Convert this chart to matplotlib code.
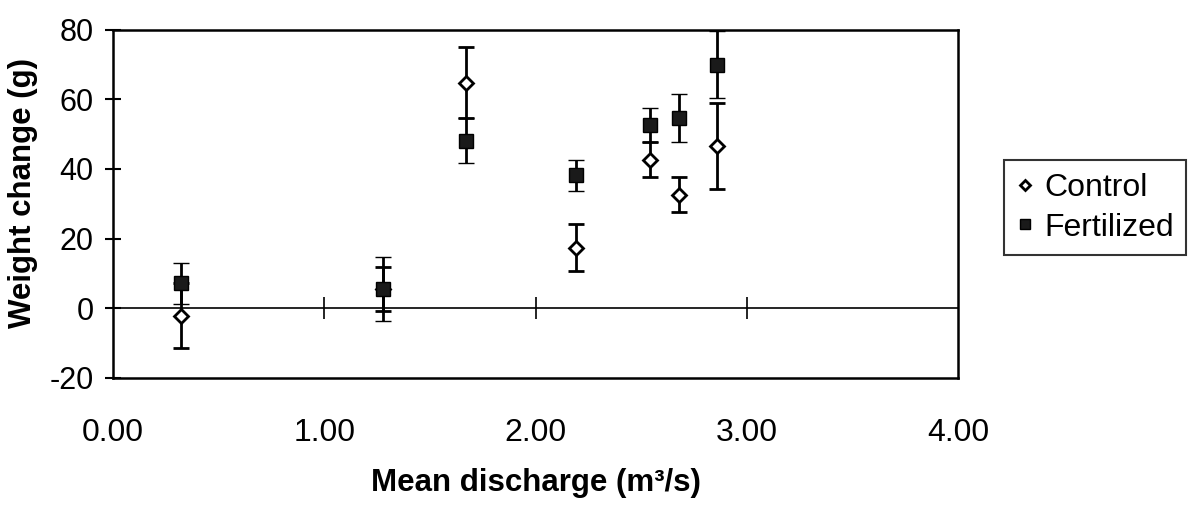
import numpy as np
import matplotlib.pyplot as plt
from matplotlib.lines import Line2D

plt.rcParams['font.family'] = ['Liberation Sans', 'DejaVu Sans']
plt.rcParams['axes.unicode_minus'] = False

# mean discharge (m3/s) per site
discharge = [0.32, 1.28, 1.67, 2.19, 2.54, 2.68, 2.86]

control = [-2.1, 5.5, 64.8, 17.4, 42.7, 32.6, 46.6]
control_err = [9.3, 6.4, 10.2, 6.7, 5.0, 5.0, 12.3]

fertilized = [7.2, 5.5, 48.1, 38.2, 52.6, 54.6, 70.0]
fertilized_err = [5.9, 9.2, 6.5, 4.4, 5.0, 7.0, 9.5]

xticks = [0, 1, 2, 3, 4]
xtick_labels = ['0.00', '1.00', '2.00', '3.00', '4.00']
yticks = [-20, 0, 20, 40, 60, 80]

fig = plt.figure(figsize=(12.01, 5.12), dpi=100)
ax = fig.add_axes([0.094, 0.262, 0.704, 0.68])

ax.errorbar(discharge, control, yerr=control_err, fmt='D', ms=7.5,
            mfc='white', mec='black', mew=2, ecolor='black', elinewidth=2,
            capsize=6, capthick=2, zorder=3)
ax.errorbar(discharge, fertilized, yerr=fertilized_err, fmt='s', ms=9.5,
            mfc='#1a1a1a', mec='black', mew=1, ecolor='black', elinewidth=2,
            capsize=6, capthick=2, zorder=4)

# zero line with its own tick marks
ax.axhline(0, color='black', lw=1.2, zorder=1)
ax.plot(xticks[1:-1], np.zeros(len(xticks) - 2), '|', color='black', ms=16, mew=1.2, zorder=1)

ax.set_xlim(0, 4)
ax.set_ylim(-20, 80)
ax.set_yticks(yticks)
ax.set_xticks(xticks)
ax.set_xticklabels(xtick_labels)
ax.tick_params(axis='x', length=0, pad=29, labelsize=23)
ax.tick_params(axis='y', direction='inout', length=12, width=1.5, labelsize=22, pad=8)
for s in ax.spines.values():
    s.set_linewidth(1.8)

ax.set_ylabel('Weight change (g)', fontsize=22.5, fontweight='bold')
ax.yaxis.set_label_coords(-0.088, 0.53)
ax.set_xlabel('Mean discharge (m³/s)', fontsize=22.5, fontweight='bold')
ax.xaxis.set_label_coords(0.5, -0.26)

handles = [Line2D([], [], ls='none', marker='D', ms=5.5, mfc='white', mec='black', mew=2),
           Line2D([], [], ls='none', marker='s', ms=7, mfc='#1a1a1a', mec='black', mew=1)]
leg = fig.legend(handles=handles, labels=['Control', 'Fertilized'],
                 loc='center', bbox_to_anchor=(0.912, 0.594), fontsize=23,
                 frameon=True, fancybox=False, edgecolor='black',
                 handlelength=0.5, handletextpad=0.35, borderpad=0.4,
                 labelspacing=0.3, borderaxespad=0)
leg.get_frame().set_linewidth(1.5)

fig.savefig('out.png', dpi=100)
